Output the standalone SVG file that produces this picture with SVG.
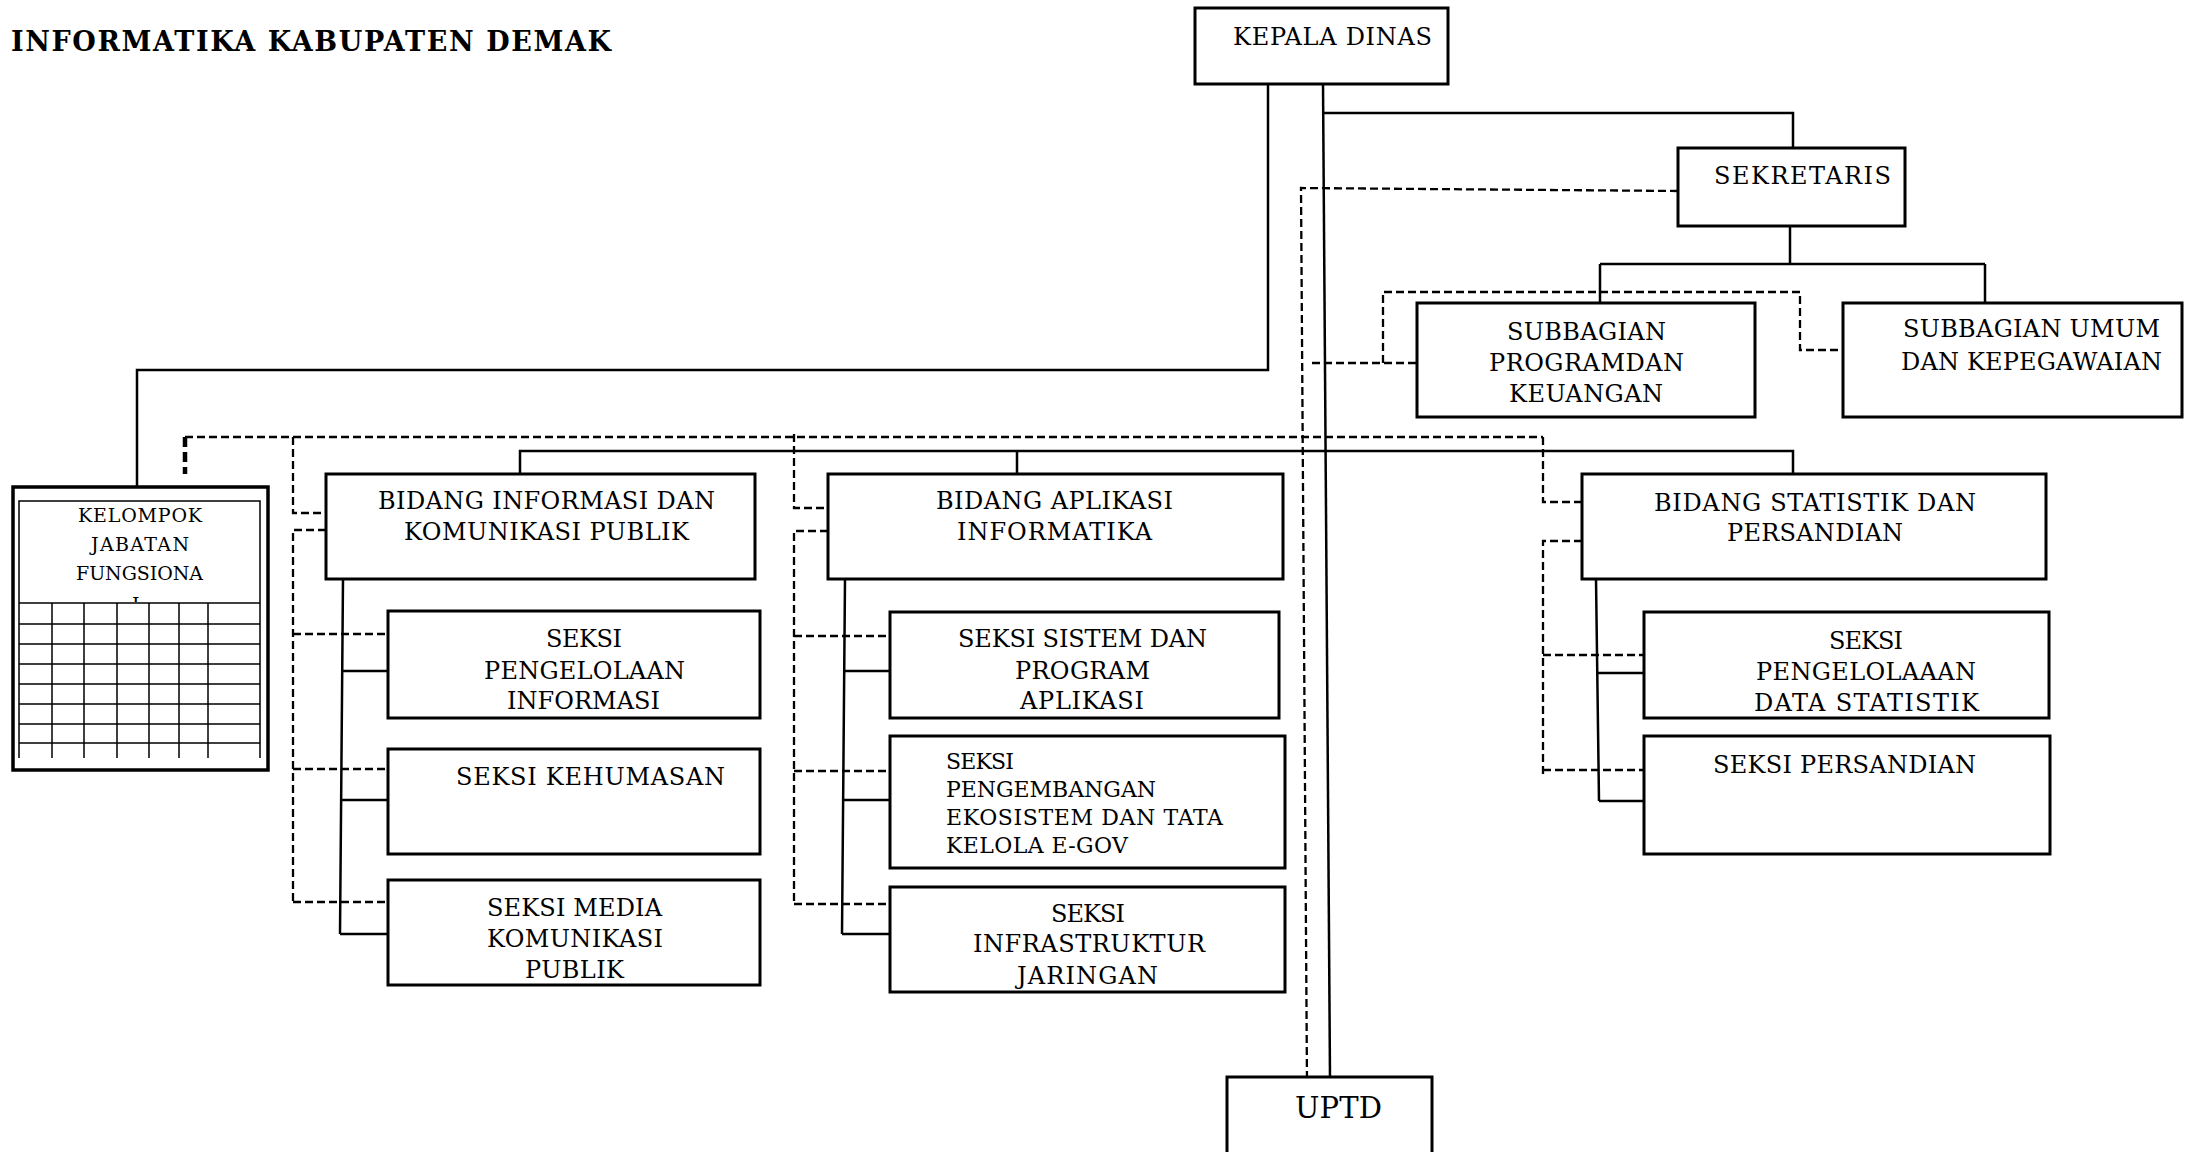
<svg xmlns="http://www.w3.org/2000/svg" width="2187" height="1152" viewBox="0 0 2187 1152">
<style>
.box{fill:#fff;stroke:#000;stroke-width:3}
.thin{fill:none;stroke:#000;stroke-width:1.5}
.solid{fill:none;stroke:#000;stroke-width:2.5}
.dash{fill:none;stroke:#000;stroke-width:2.3;stroke-dasharray:8 4}
.dashb{fill:none;stroke:#000;stroke-width:4.5;stroke-dasharray:10 5}
.t{font-family:"DejaVu Serif","Liberation Serif",serif;font-size:24px;fill:#000}
.m{font-size:24px}
.s{font-size:22px}
.k{font-size:19px}
.u{font-size:29px}
.title{font-family:"DejaVu Serif","Liberation Serif",serif;font-size:27px;font-weight:bold;fill:#000}
</style>
<defs>
<clipPath id="clipL"><rect x="120" y="590" width="40" height="12"/></clipPath>
</defs>
<rect width="2187" height="1152" fill="#fff"/>
<text class="title" x="11" y="51" textLength="600">INFORMATIKA KABUPATEN DEMAK</text>

<g id="connectors">
<path class="solid" d="M1268,84 V370 H137 V487"/>
<path class="solid" d="M1323,84 L1330,1077"/>
<path class="solid" d="M1323,113 H1793 V148"/>
<path class="solid" d="M1790,226 V264 M1600,264 H1985 M1600,264 V303 M1985,264 V303"/>
<path class="solid" d="M520,474 V451 H1793 V474 M1017,451 V474"/>
<path class="solid" d="M343,579 L340,934 M343,671 H388 M341,800 H388 M340,934 H388"/>
<path class="solid" d="M845,579 L842,934 M845,671 H890 M843,800 H890 M842,934 H890"/>
<path class="solid" d="M1596,579 L1599,801 M1597,673 H1644 M1599,801 H1644"/>
<path class="dash" d="M1678,191 L1301,188 L1307,1083"/>
<path class="dash" d="M1312,363 H1417 M1383,363 V292 H1800 V350 H1843"/>
<path class="dash" d="M185,437 H1543"/>
<path class="dashb" d="M185,437 V474"/>
<path class="dash" d="M293,437 V513 H326 M326,530 H293 V902 M293,634 H388 M293,769 H388 M293,902 H388"/>
<path class="dash" d="M794,434 V508 H828 M828,531 H794 V904 M794,636 H890 M794,771 H890 M794,904 H890"/>
<path class="dash" d="M1543,437 V502 H1582 M1582,541 H1543 V775 M1543,655 H1644 M1543,770 H1644"/>
</g>

<g id="kepala-dinas">
<rect class="box" x="1195" y="8" width="253" height="76"/>
<text class="t" x="1233" y="45" textLength="199">KEPALA DINAS</text>
</g>

<g id="sekretaris">
<rect class="box" x="1678" y="148" width="227" height="78"/>
<text class="t" x="1714" y="184" textLength="177">SEKRETARIS</text>
</g>

<g id="subbagian-program">
<rect class="box" x="1417" y="303" width="338" height="114"/>
<text class="t" x="1507" y="340" textLength="159">SUBBAGIAN</text>
<text class="t" x="1489" y="371" textLength="195">PROGRAMDAN</text>
<text class="t" x="1509" y="402" textLength="154">KEUANGAN</text>
</g>

<g id="subbagian-umum">
<rect class="box" x="1843" y="303" width="339" height="114"/>
<text class="t" x="1903" y="337" textLength="257">SUBBAGIAN UMUM</text>
<text class="t" x="1901" y="370" textLength="261">DAN KEPEGAWAIAN</text>
</g>

<g id="kelompok-jabatan-fungsional">
<rect class="box" x="13" y="487" width="255" height="283" style="stroke-width:3.5"/>
<path class="thin" d="M19,758 V501 H260 V758 M19,603 H260 M19,624 H260 M19,644 H260 M19,664 H260 M19,684 H260 M19,704 H260 M19,724 H260 M19,743 H260 M52,603 V758 M84,603 V758 M117,603 V758 M149,603 V758 M179,603 V758 M208,603 V758"/>
<text class="t k" x="78" y="522" textLength="124">KELOMPOK</text>
<text class="t k" x="91" y="551" textLength="98">JABATAN</text>
<text class="t k" x="76" y="580" textLength="127">FUNGSIONA</text>
<text class="t k" x="132" y="611" clip-path="url(#clipL)">L</text>
</g>

<g id="bidang-informasi">
<rect class="box" x="326" y="474" width="429" height="105"/>
<text class="t m" x="378" y="509" textLength="337">BIDANG INFORMASI DAN</text>
<text class="t m" x="404" y="540" textLength="285">KOMUNIKASI PUBLIK</text>
</g>

<g id="seksi-pengelolaan-informasi">
<rect class="box" x="388" y="611" width="372" height="107"/>
<text class="t m" x="546" y="647" textLength="76">SEKSI</text>
<text class="t m" x="484" y="679" textLength="201">PENGELOLAAN</text>
<text class="t m" x="507" y="709" textLength="153">INFORMASI</text>
</g>

<g id="seksi-kehumasan">
<rect class="box" x="388" y="749" width="372" height="105"/>
<text class="t m" x="456" y="785" textLength="269">SEKSI KEHUMASAN</text>
</g>

<g id="seksi-media">
<rect class="box" x="388" y="880" width="372" height="105"/>
<text class="t m" x="487" y="916" textLength="175">SEKSI MEDIA</text>
<text class="t m" x="487" y="947" textLength="176">KOMUNIKASI</text>
<text class="t m" x="525" y="978" textLength="99">PUBLIK</text>
</g>

<g id="bidang-aplikasi">
<rect class="box" x="828" y="474" width="455" height="105"/>
<text class="t m" x="936" y="509" textLength="237">BIDANG APLIKASI</text>
<text class="t m" x="957" y="540" textLength="195">INFORMATIKA</text>
</g>

<g id="seksi-sistem">
<rect class="box" x="890" y="612" width="389" height="106"/>
<text class="t m" x="958" y="647" textLength="249">SEKSI SISTEM DAN</text>
<text class="t m" x="1015" y="679" textLength="135">PROGRAM</text>
<text class="t m" x="1020" y="709" textLength="124">APLIKASI</text>
</g>

<g id="seksi-pengembangan">
<rect class="box" x="890" y="736" width="395" height="132"/>
<text class="t s" x="946" y="769" textLength="68">SEKSI</text>
<text class="t s" x="946" y="797" textLength="210">PENGEMBANGAN</text>
<text class="t s" x="946" y="825" textLength="277">EKOSISTEM DAN TATA</text>
<text class="t s" x="946" y="853" textLength="182">KELOLA E-GOV</text>
</g>

<g id="seksi-infrastruktur">
<rect class="box" x="890" y="887" width="395" height="105"/>
<text class="t m" x="1051" y="922" textLength="74">SEKSI</text>
<text class="t m" x="973" y="952" textLength="232">INFRASTRUKTUR</text>
<text class="t m" x="1017" y="984" textLength="141">JARINGAN</text>
</g>

<g id="bidang-statistik">
<rect class="box" x="1582" y="474" width="464" height="105"/>
<text class="t m" x="1654" y="511" textLength="322">BIDANG STATISTIK DAN</text>
<text class="t m" x="1727" y="541" textLength="176">PERSANDIAN</text>
</g>

<g id="seksi-data-statistik">
<rect class="box" x="1644" y="612" width="405" height="106"/>
<text class="t m" x="1829" y="649" textLength="74">SEKSI</text>
<text class="t m" x="1756" y="680" textLength="220">PENGELOLAAAN</text>
<text class="t m" x="1754" y="711" textLength="225">DATA STATISTIK</text>
</g>

<g id="seksi-persandian">
<rect class="box" x="1644" y="736" width="406" height="118"/>
<text class="t m" x="1713" y="773" textLength="263">SEKSI PERSANDIAN</text>
</g>

<g id="uptd">
<rect class="box" x="1227" y="1077" width="205" height="100"/>
<text class="t u" x="1295" y="1118" textLength="87">UPTD</text>
</g>
</svg>
